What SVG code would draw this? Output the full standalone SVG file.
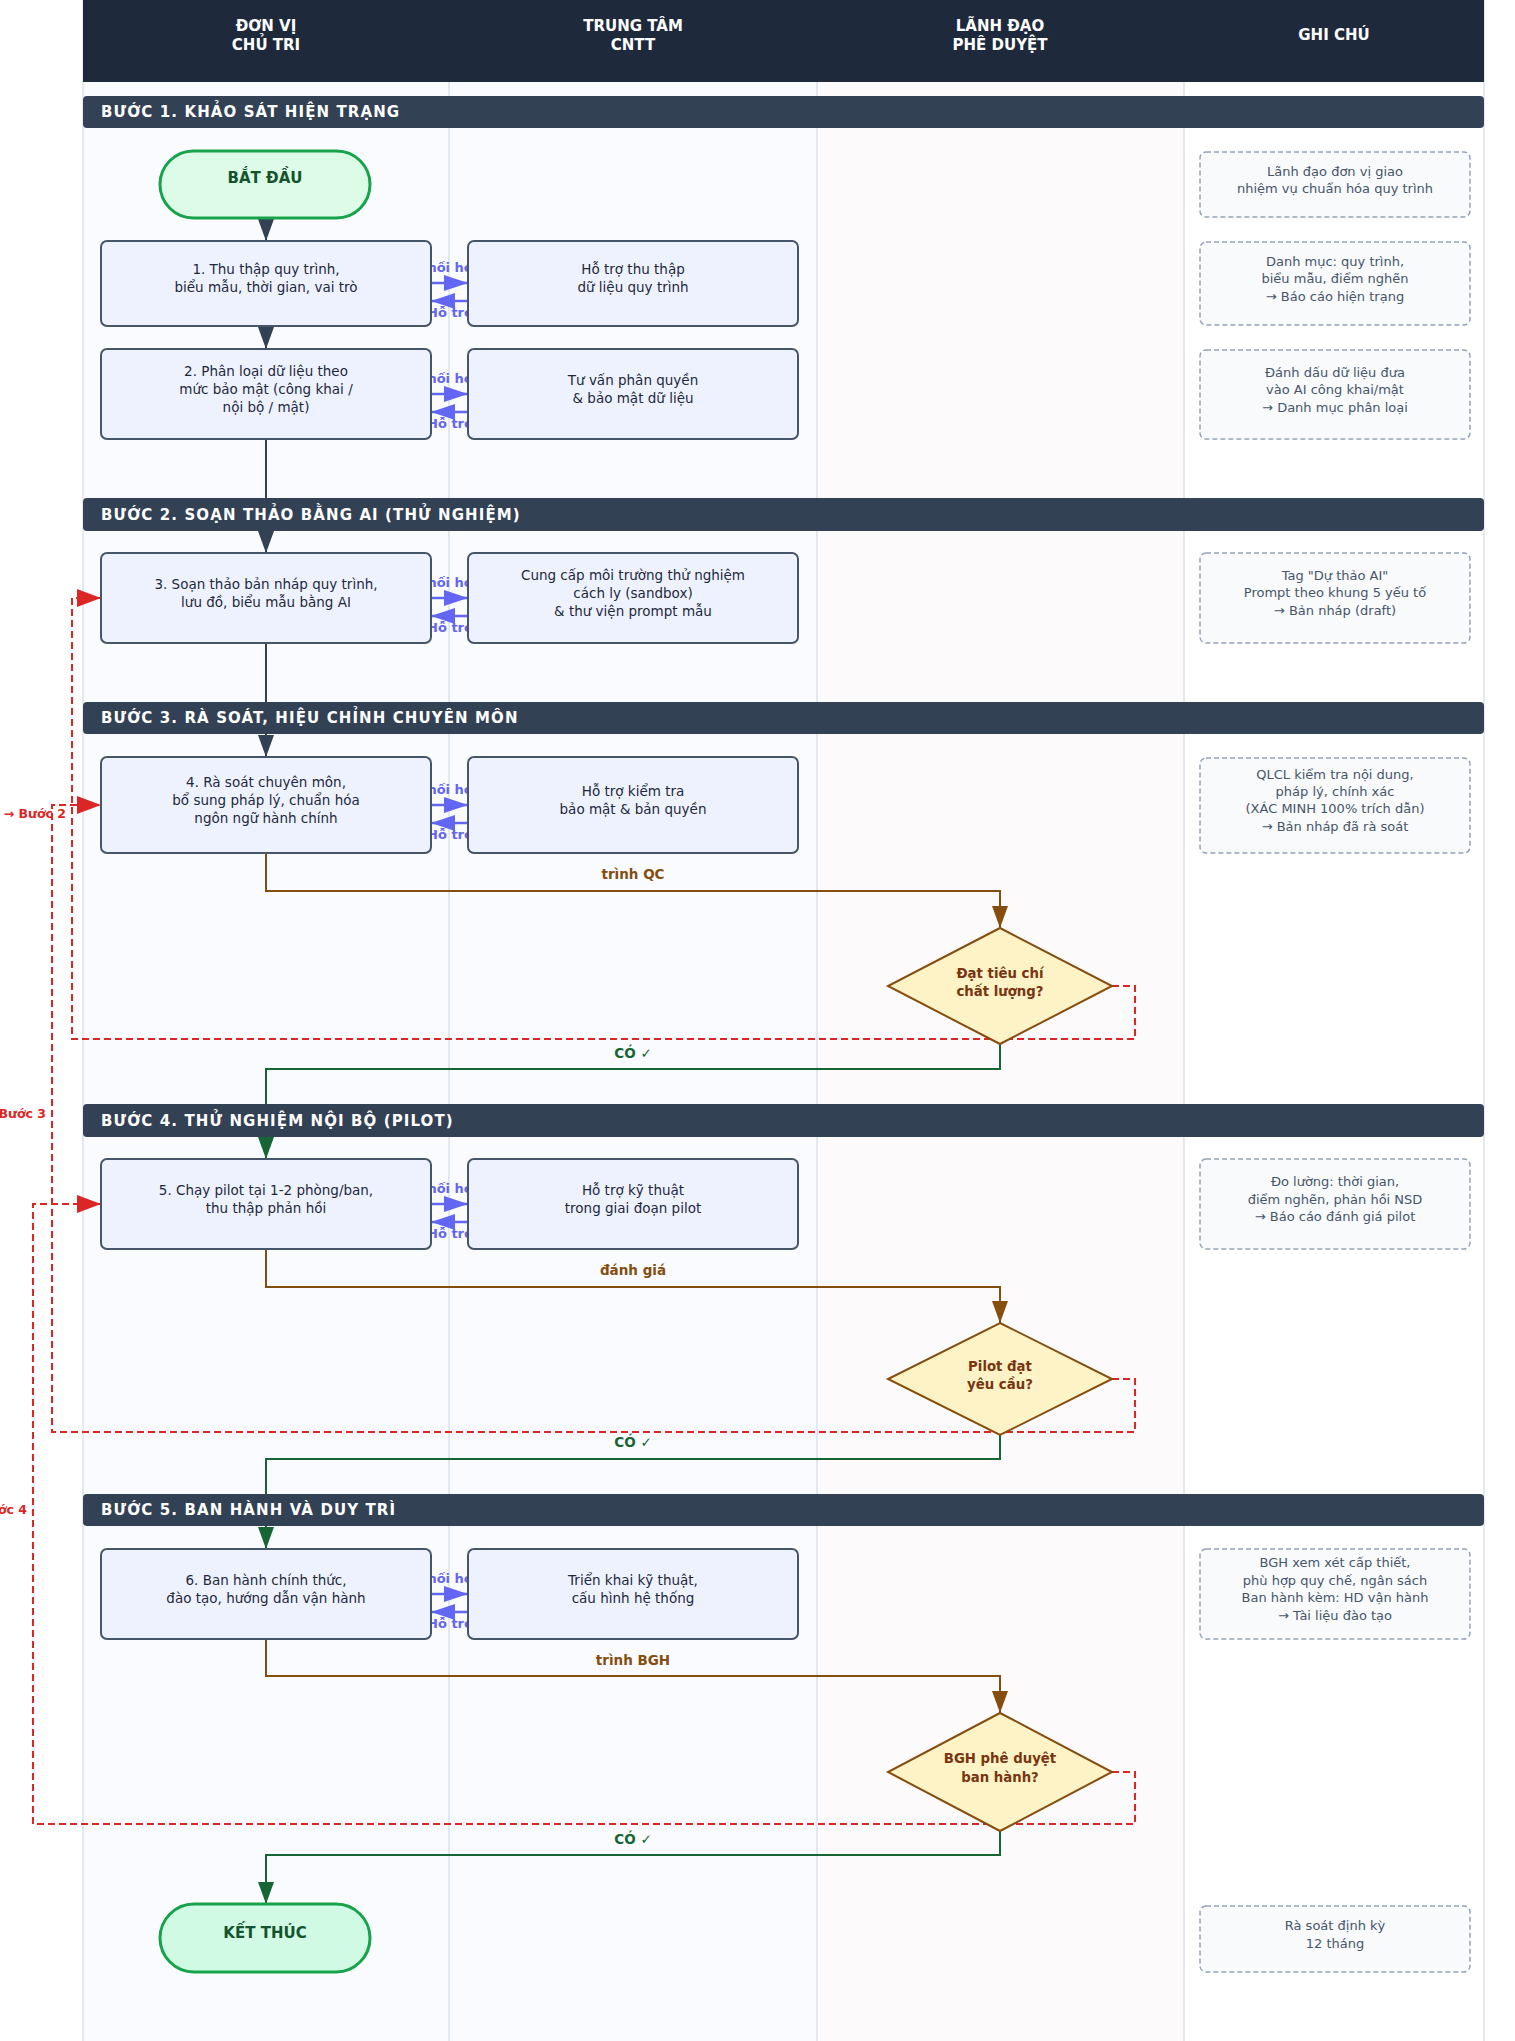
<svg xmlns="http://www.w3.org/2000/svg" width="1515" height="2041" viewBox="0 0 1515 2041">
<defs>
<style>
text{font-family:"DejaVu Sans","Liberation Sans",sans-serif}
.hdr{font-size:15px;font-weight:bold;fill:#ffffff;text-anchor:middle}
.band{fill:#334155}
.bandt{font-size:15px;font-weight:bold;fill:#ffffff;letter-spacing:1.1px}
.box{fill:#eef2ff;stroke:#475569;stroke-width:2}
.bt{font-size:13.5px;fill:#1e293b;text-anchor:middle}
.note{fill:#f8fafc;stroke:#94a3b8;stroke-width:1.5;stroke-dasharray:5 3}
.nt{font-size:13px;fill:#475569;text-anchor:middle}
.term{stroke:#16a34a;stroke-width:3}
.tt{font-size:15px;font-weight:bold;fill:#14532d;text-anchor:middle}
.dia{fill:#fef3c7;stroke:#854d0e;stroke-width:2}
.dt{font-size:13.3px;font-weight:bold;fill:#78350f;text-anchor:middle}
.lane{stroke:#cbd5e1;stroke-width:1}
.cdark{fill:none;stroke:#334155;stroke-width:2}
.cblue{fill:none;stroke:#6366f1;stroke-width:2.5}
.cbrown{fill:none;stroke:#854d0e;stroke-width:2}
.cgreen{fill:none;stroke:#166534;stroke-width:2}
.cred{fill:none;stroke:#dc2626;stroke-width:2;stroke-dasharray:7 4}
.lb{font-size:13px;font-weight:bold;fill:#6366f1;text-anchor:middle}
.lbr{font-size:13.5px;font-weight:bold;fill:#854d0e;text-anchor:middle}
.lg{font-size:13.5px;font-weight:bold;fill:#166534;text-anchor:middle}
.lr{font-size:12.5px;font-weight:bold;fill:#dc2626;text-anchor:end}
</style>
<marker id="m-dark" markerUnits="userSpaceOnUse" markerWidth="22" markerHeight="16" refX="22" refY="8" orient="auto"><path d="M0,0 L22,8 L0,16 z" fill="#334155"/></marker>
<marker id="m-blue" markerUnits="userSpaceOnUse" markerWidth="24" markerHeight="16" refX="24" refY="8" orient="auto"><path d="M0,0 L24,8 L0,16 z" fill="#6366f1"/></marker>
<marker id="m-brown" markerUnits="userSpaceOnUse" markerWidth="22" markerHeight="16" refX="22" refY="8" orient="auto"><path d="M0,0 L22,8 L0,16 z" fill="#854d0e"/></marker>
<marker id="m-green" markerUnits="userSpaceOnUse" markerWidth="22" markerHeight="16" refX="22" refY="8" orient="auto"><path d="M0,0 L22,8 L0,16 z" fill="#166534"/></marker>
<marker id="m-red" markerUnits="userSpaceOnUse" markerWidth="24" markerHeight="18" refX="24" refY="9" orient="auto"><path d="M0,0 L24,9 L0,18 z" fill="#dc2626"/></marker>
</defs>
<rect x="0" y="0" width="1515" height="2041" fill="#ffffff"/>
<g id="lanes">
<rect x="83" y="82" width="366" height="1959" fill="#fafbfe"/>
<rect x="449" y="82" width="368" height="1959" fill="#fafbfe"/>
<rect x="817" y="82" width="367" height="1959" fill="#fdfafb"/>
<rect x="1184" y="82" width="300" height="1959" fill="#ffffff"/>
<line class="lane" x1="83" y1="0" x2="83" y2="2041"/>
<line class="lane" x1="449" y1="0" x2="449" y2="2041"/>
<line class="lane" x1="817" y1="0" x2="817" y2="2041"/>
<line class="lane" x1="1184" y1="0" x2="1184" y2="2041"/>
<line class="lane" x1="1484" y1="0" x2="1484" y2="2041"/>
</g>
<g id="header">
<rect x="83" y="0" width="1401" height="82" fill="#1e293b"/>
<text class="hdr" x="266" y="31">ĐƠN VỊ</text><text class="hdr" x="266" y="50">CHỦ TRI</text>
<text class="hdr" x="633" y="31">TRUNG TÂM</text><text class="hdr" x="633" y="50">CNTT</text>
<text class="hdr" x="1000" y="31">LÃNH ĐẠO</text><text class="hdr" x="1000" y="50">PHÊ DUYỆT</text>
<text class="hdr" x="1334" y="40">GHI CHÚ</text>
</g>
<g id="connectors">
<path class="cdark" d="M266,218 V241" marker-end="url(#m-dark)"/>
<path class="cdark" d="M266,326 V349" marker-end="url(#m-dark)"/>
<path class="cdark" d="M266,439 V553" marker-end="url(#m-dark)"/>
<path class="cdark" d="M266,643 V757" marker-end="url(#m-dark)"/>
<path class="cblue" d="M431,283 H468" marker-end="url(#m-blue)"/>
<path class="cblue" d="M468,301 H431" marker-end="url(#m-blue)"/>
<path class="cblue" d="M431,394 H468" marker-end="url(#m-blue)"/>
<path class="cblue" d="M468,412 H431" marker-end="url(#m-blue)"/>
<path class="cblue" d="M431,598 H468" marker-end="url(#m-blue)"/>
<path class="cblue" d="M468,616 H431" marker-end="url(#m-blue)"/>
<path class="cblue" d="M431,805 H468" marker-end="url(#m-blue)"/>
<path class="cblue" d="M468,823 H431" marker-end="url(#m-blue)"/>
<path class="cblue" d="M431,1204 H468" marker-end="url(#m-blue)"/>
<path class="cblue" d="M468,1222 H431" marker-end="url(#m-blue)"/>
<path class="cblue" d="M431,1594 H468" marker-end="url(#m-blue)"/>
<path class="cblue" d="M468,1612 H431" marker-end="url(#m-blue)"/>
<text class="lb" x="450" y="272">Phối hợp</text><text class="lb" x="450" y="317">Hỗ trợ</text>
<text class="lb" x="450" y="383">Phối hợp</text><text class="lb" x="450" y="428">Hỗ trợ</text>
<text class="lb" x="450" y="587">Phối hợp</text><text class="lb" x="450" y="632">Hỗ trợ</text>
<text class="lb" x="450" y="794">Phối hợp</text><text class="lb" x="450" y="839">Hỗ trợ</text>
<text class="lb" x="450" y="1193">Phối hợp</text><text class="lb" x="450" y="1238">Hỗ trợ</text>
<text class="lb" x="450" y="1583">Phối hợp</text><text class="lb" x="450" y="1628">Hỗ trợ</text>
<path class="cbrown" d="M266,853 V891 H1000 V928" marker-end="url(#m-brown)"/>
<path class="cbrown" d="M266,1249 V1287 H1000 V1323" marker-end="url(#m-brown)"/>
<path class="cbrown" d="M266,1639 V1676 H1000 V1713" marker-end="url(#m-brown)"/>
<text class="lbr" x="633" y="879">trình QC</text>
<text class="lbr" x="633" y="1275">đánh giá</text>
<text class="lbr" x="633" y="1665">trình BGH</text>
<path class="cgreen" d="M1000,1044 V1069 H266 V1159" marker-end="url(#m-green)"/>
<path class="cgreen" d="M1000,1435 V1459 H266 V1549" marker-end="url(#m-green)"/>
<path class="cgreen" d="M1000,1831 V1855 H266 V1904" marker-end="url(#m-green)"/>
<text class="lg" x="633" y="1058">CÓ ✓</text>
<text class="lg" x="633" y="1447">CÓ ✓</text>
<text class="lg" x="633" y="1844">CÓ ✓</text>
<path class="cred" d="M1112,986 H1135 V1039 H72 V598 H101" marker-end="url(#m-red)"/>
<path class="cred" d="M1112,1379 H1135 V1432 H52 V805 H101" marker-end="url(#m-red)"/>
<path class="cred" d="M1112,1772 H1135 V1824 H33 V1204 H101" marker-end="url(#m-red)"/>
<text class="lr" x="66" y="818">→ Bước 2</text>
<text class="lr" x="46" y="1118">→ Bước 3</text>
<text class="lr" x="27" y="1514">→ Bước 4</text>
</g>
<g id="bands">
<g id="band1"><rect class="band" x="83" y="96" width="1401" height="32" rx="4"/><text class="bandt" x="101" y="117">BƯỚC 1. KHẢO SÁT HIỆN TRẠNG</text></g>
<g id="band2"><rect class="band" x="83" y="498" width="1401" height="33" rx="4"/><text class="bandt" x="101" y="520">BƯỚC 2. SOẠN THẢO BẰNG AI (THỬ NGHIỆM)</text></g>
<g id="band3"><rect class="band" x="83" y="702" width="1401" height="32" rx="4"/><text class="bandt" x="101" y="723">BƯỚC 3. RÀ SOÁT, HIỆU CHỈNH CHUYÊN MÔN</text></g>
<g id="band4"><rect class="band" x="83" y="1104" width="1401" height="33" rx="4"/><text class="bandt" x="101" y="1126">BƯỚC 4. THỬ NGHIỆM NỘI BỘ (PILOT)</text></g>
<g id="band5"><rect class="band" x="83" y="1494" width="1401" height="32" rx="4"/><text class="bandt" x="101" y="1515">BƯỚC 5. BAN HÀNH VÀ DUY TRÌ</text></g>
</g>
<g id="nodes">
<g id="start"><rect class="term" x="160" y="151" width="210" height="67" rx="33.5" fill="#dcfce7"/><text class="tt" x="265" y="183">BẮT ĐẦU</text></g>
<g id="n1"><rect class="box" x="101" y="241" width="330" height="85" rx="6"/><text class="bt" x="266" y="274">1. Thu thập quy trình,</text><text class="bt" x="266" y="292">biểu mẫu, thời gian, vai trò</text></g>
<g id="c1"><rect class="box" x="468" y="241" width="330" height="85" rx="6"/><text class="bt" x="633" y="274">Hỗ trợ thu thập</text><text class="bt" x="633" y="292">dữ liệu quy trình</text></g>
<g id="n2"><rect class="box" x="101" y="349" width="330" height="90" rx="6"/><text class="bt" x="266" y="376">2. Phân loại dữ liệu theo</text><text class="bt" x="266" y="394">mức bảo mật (công khai /</text><text class="bt" x="266" y="412">nội bộ / mật)</text></g>
<g id="c2"><rect class="box" x="468" y="349" width="330" height="90" rx="6"/><text class="bt" x="633" y="385">Tư vấn phân quyền</text><text class="bt" x="633" y="403">&amp; bảo mật dữ liệu</text></g>
<g id="n3"><rect class="box" x="101" y="553" width="330" height="90" rx="6"/><text class="bt" x="266" y="589">3. Soạn thảo bản nháp quy trình,</text><text class="bt" x="266" y="607">lưu đồ, biểu mẫu bằng AI</text></g>
<g id="c3"><rect class="box" x="468" y="553" width="330" height="90" rx="6"/><text class="bt" x="633" y="580">Cung cấp môi trường thử nghiệm</text><text class="bt" x="633" y="598">cách ly (sandbox)</text><text class="bt" x="633" y="616">&amp; thư viện prompt mẫu</text></g>
<g id="n4"><rect class="box" x="101" y="757" width="330" height="96" rx="6"/><text class="bt" x="266" y="787">4. Rà soát chuyên môn,</text><text class="bt" x="266" y="805">bổ sung pháp lý, chuẩn hóa</text><text class="bt" x="266" y="823">ngôn ngữ hành chính</text></g>
<g id="c4"><rect class="box" x="468" y="757" width="330" height="96" rx="6"/><text class="bt" x="633" y="796">Hỗ trợ kiểm tra</text><text class="bt" x="633" y="814">bảo mật &amp; bản quyền</text></g>
<g id="d1"><polygon class="dia" points="1000,928 1112,986 1000,1044 888,986"/><text class="dt" x="1000" y="978">Đạt tiêu chí</text><text class="dt" x="1000" y="996">chất lượng?</text></g>
<g id="n5"><rect class="box" x="101" y="1159" width="330" height="90" rx="6"/><text class="bt" x="266" y="1195">5. Chạy pilot tại 1-2 phòng/ban,</text><text class="bt" x="266" y="1213">thu thập phản hồi</text></g>
<g id="c5"><rect class="box" x="468" y="1159" width="330" height="90" rx="6"/><text class="bt" x="633" y="1195">Hỗ trợ kỹ thuật</text><text class="bt" x="633" y="1213">trong giai đoạn pilot</text></g>
<g id="d2"><polygon class="dia" points="1000,1323 1112,1379 1000,1435 888,1379"/><text class="dt" x="1000" y="1371">Pilot đạt</text><text class="dt" x="1000" y="1389">yêu cầu?</text></g>
<g id="n6"><rect class="box" x="101" y="1549" width="330" height="90" rx="6"/><text class="bt" x="266" y="1585">6. Ban hành chính thức,</text><text class="bt" x="266" y="1603">đào tạo, hướng dẫn vận hành</text></g>
<g id="c6"><rect class="box" x="468" y="1549" width="330" height="90" rx="6"/><text class="bt" x="633" y="1585">Triển khai kỹ thuật,</text><text class="bt" x="633" y="1603">cấu hình hệ thống</text></g>
<g id="d3"><polygon class="dia" points="1000,1713 1112,1772 1000,1831 888,1772"/><text class="dt" x="1000" y="1763">BGH phê duyệt</text><text class="dt" x="1000" y="1782">ban hành?</text></g>
<g id="end"><rect class="term" x="160" y="1904" width="210" height="68" rx="34" fill="#d1fae5"/><text class="tt" x="265" y="1938">KẾT THÚC</text></g>
<g id="note1"><rect class="note" x="1200" y="152" width="270" height="65" rx="6"/><text class="nt" x="1335" y="176">Lãnh đạo đơn vị giao</text><text class="nt" x="1335" y="193">nhiệm vụ chuẩn hóa quy trình</text></g>
<g id="note2"><rect class="note" x="1200" y="242" width="270" height="83" rx="6"/><text class="nt" x="1335" y="266">Danh mục: quy trình,</text><text class="nt" x="1335" y="283">biểu mẫu, điểm nghẽn</text><text class="nt" x="1335" y="301">→ Báo cáo hiện trạng</text></g>
<g id="note3"><rect class="note" x="1200" y="350" width="270" height="89" rx="6"/><text class="nt" x="1335" y="377">Đánh dấu dữ liệu đưa</text><text class="nt" x="1335" y="394">vào AI công khai/mật</text><text class="nt" x="1335" y="412">→ Danh mục phân loại</text></g>
<g id="note4"><rect class="note" x="1200" y="553" width="270" height="90" rx="6"/><text class="nt" x="1335" y="580">Tag "Dự thảo AI"</text><text class="nt" x="1335" y="597">Prompt theo khung 5 yếu tố</text><text class="nt" x="1335" y="615">→ Bản nháp (draft)</text></g>
<g id="note5"><rect class="note" x="1200" y="758" width="270" height="95" rx="6"/><text class="nt" x="1335" y="779">QLCL kiểm tra nội dung,</text><text class="nt" x="1335" y="796">pháp lý, chính xác</text><text class="nt" x="1335" y="813">(XÁC MINH 100% trích dẫn)</text><text class="nt" x="1335" y="831">→ Bản nháp đã rà soát</text></g>
<g id="note6"><rect class="note" x="1200" y="1159" width="270" height="90" rx="6"/><text class="nt" x="1335" y="1186">Đo lường: thời gian,</text><text class="nt" x="1335" y="1204">điểm nghẽn, phản hồi NSD</text><text class="nt" x="1335" y="1221">→ Báo cáo đánh giá pilot</text></g>
<g id="note7"><rect class="note" x="1200" y="1549" width="270" height="90" rx="6"/><text class="nt" x="1335" y="1567">BGH xem xét cấp thiết,</text><text class="nt" x="1335" y="1585">phù hợp quy chế, ngân sách</text><text class="nt" x="1335" y="1602">Ban hành kèm: HD vận hành</text><text class="nt" x="1335" y="1620">→ Tài liệu đào tạo</text></g>
<g id="note8"><rect class="note" x="1200" y="1906" width="270" height="66" rx="6"/><text class="nt" x="1335" y="1930">Rà soát định kỳ</text><text class="nt" x="1335" y="1948">12 tháng</text></g>
</g>
</svg>
